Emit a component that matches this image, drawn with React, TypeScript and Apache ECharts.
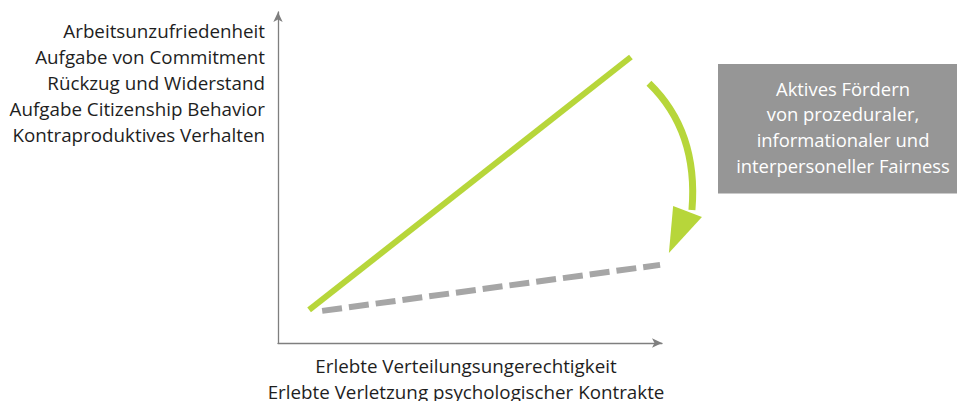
import React, { useEffect, useRef } from "react";
import * as echarts from "echarts";

// Data (abstract 0–100 space)
const greenLineX = [8.1, 91.9];
const greenLineY = [10.0, 86.4];
const grayLineX = [11.5, 99.5];
const grayLineY = [9.7, 23.6];

// curved arrow in data space: start, control, end
const arrowCurve = [
  [96.6, 78.5],
  [109.5, 64.0],
  [107.8, 40.2],
];
const arrowHead = [
  [102.9, 41.4],
  [110.4, 38.1],
  [101.8, 27.2],
];

const yAxisLines = [
  "Arbeitsunzufriedenheit",
  "Aufgabe von Commitment",
  "Rückzug und Widerstand",
  "Aufgabe Citizenship Behavior",
  "Kontraproduktives Verhalten",
];
const xAxisLines = [
  "Erlebte Verteilungsungerechtigkeit",
  "Erlebte Verletzung psychologischer Kontrakte",
];
const boxLines = [
  "Aktives Fördern",
  "von prozeduraler,",
  "informationaler und",
  "interpersoneller Fairness",
];

const FONT = "'Open Sans', 'Noto Sans', sans-serif";
const FS = 18.8;
const FS_BOX = 18.4;
const LINE_H = 25.8;
const GREEN = "#b7d63a";
const AXIS = "#7f7f7f";
const DASH = "#a6a6a6";

export default function App() {
  const ref = useRef<HTMLDivElement>(null);
  useEffect(() => {
    if (!ref.current) return;
    const chart = echarts.init(ref.current, undefined, { renderer: "svg" });
    const axisCommon = {
      type: "value" as const,
      min: 0,
      max: 100,
      axisTick: { show: false },
      axisLabel: { show: false },
      splitLine: { show: false },
      axisLine: {
        show: true,
        symbol: ["none", "arrow"],
        symbolSize: [7, 10],
        lineStyle: { color: AXIS, width: 1.3 },
      },
    };
    chart.setOption({
      animation: false,
      grid: { left: 278, right: 295, top: 12, bottom: 58 },
      xAxis: { ...axisCommon },
      yAxis: { ...axisCommon },
      series: [
        {
          type: "line",
          data: greenLineX.map((x, i) => [x, greenLineY[i]]),
          showSymbol: false,
          symbol: "none",
          lineStyle: { color: GREEN, width: 6, cap: "butt" },
          z: 3,
        },
        {
          type: "line",
          data: grayLineX.map((x, i) => [x, grayLineY[i]]),
          showSymbol: false,
          symbol: "none",
          lineStyle: { color: DASH, width: 6, type: [20, 7], cap: "butt" },
          z: 2,
        },
      ],
    });
    const px = (p: number[]) => chart.convertToPixel({ gridIndex: 0 }, p) as number[];
    const c = arrowCurve.map(px);
    const h = arrowHead.map(px);
    const textEls: any[] = [];
    yAxisLines.forEach((t, i) => {
      textEls.push({
        type: "text",
        x: 265,
        y: 31.3 + i * LINE_H,
        style: {
          text: t,
          font: `${FS}px ${FONT}`,
          fill: "#1e1e1e",
          align: "right",
          verticalAlign: "middle",
        },
      });
    });
    xAxisLines.forEach((t, i) => {
      textEls.push({
        type: "text",
        x: 466,
        y: 366 + i * 25.5,
        style: {
          text: t,
          font: `${FS}px ${FONT}`,
          fill: "#1e1e1e",
          align: "center",
          verticalAlign: "middle",
        },
      });
    });
    boxLines.forEach((t, i) => {
      textEls.push({
        type: "text",
        x: 843,
        y: 88 + i * LINE_H,
        z: 11,
        style: {
          text: t,
          font: `${FS_BOX}px ${FONT}`,
          fill: "#ffffff",
          align: "center",
          verticalAlign: "middle",
        },
      });
    });
    chart.setOption({
      graphic: [
        {
          type: "rect",
          shape: { x: 718, y: 64, width: 245, height: 129.5 },
          style: { fill: "#969696" },
          z: 10,
        },
        {
          type: "bezierCurve",
          shape: {
            x1: c[0][0],
            y1: c[0][1],
            cpx1: c[1][0],
            cpy1: c[1][1],
            x2: c[2][0],
            y2: c[2][1],
          },
          style: { stroke: GREEN, lineWidth: 7, fill: "none" },
          z: 10,
        },
        {
          type: "polygon",
          shape: { points: h },
          style: { fill: GREEN },
          z: 10,
        },
        ...textEls,
      ],
    });
    return () => chart.dispose();
  }, []);
  return (
    <div
      ref={ref}
      style={{ position: "fixed", left: 0, top: 0, width: 957, height: 401, background: "#fff" }}
    />
  );
}
